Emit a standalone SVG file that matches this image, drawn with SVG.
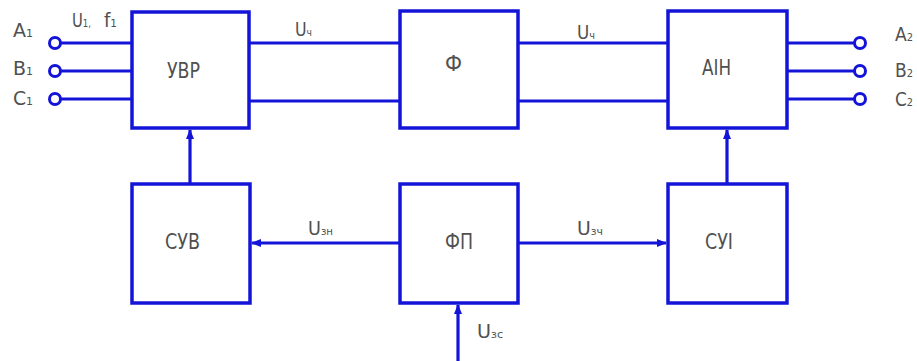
<svg xmlns="http://www.w3.org/2000/svg" width="917" height="361" viewBox="0 0 917 361">
<defs>
<marker id="arr" viewBox="0 0 10 8" refX="9" refY="4" markerWidth="10" markerHeight="8" markerUnits="userSpaceOnUse" orient="auto">
<path d="M0,0 L10,4 L0,8 z" fill="#1414d8"/>
</marker>
</defs>
<style>
.box{fill:#fff;stroke:#1414d8;stroke-width:3.5}
.ln{fill:none;stroke:#1414d8;stroke-width:3.2}
.term{fill:#fff;stroke:#1414d8;stroke-width:3}
.t{font-family:"DejaVu Sans Condensed","Liberation Sans",sans-serif;font-stretch:condensed;fill:#505050;font-size:19px}
.bt{font-family:"DejaVu Sans Condensed","Liberation Sans",sans-serif;font-stretch:condensed;fill:#505050;font-size:21px}
.s{font-size:11px}
</style>
<g id="connectors">
<line class="ln" x1="60" y1="43" x2="132" y2="43"/>
<line class="ln" x1="60" y1="71" x2="132" y2="71"/>
<line class="ln" x1="60" y1="99" x2="132" y2="99"/>
<line class="ln" x1="249" y1="43" x2="400" y2="43"/>
<line class="ln" x1="249" y1="101" x2="400" y2="101"/>
<line class="ln" x1="518" y1="43" x2="668" y2="43"/>
<line class="ln" x1="518" y1="101" x2="668" y2="101"/>
<line class="ln" x1="787" y1="43" x2="854" y2="43"/>
<line class="ln" x1="787" y1="71" x2="854" y2="71"/>
<line class="ln" x1="787" y1="99" x2="854" y2="99"/>
<line class="ln" x1="190" y1="184" x2="190" y2="130" marker-end="url(#arr)"/>
<line class="ln" x1="727" y1="184" x2="727" y2="130" marker-end="url(#arr)"/>
<line class="ln" x1="400" y1="243" x2="252" y2="243" marker-end="url(#arr)"/>
<line class="ln" x1="518" y1="243" x2="666" y2="243" marker-end="url(#arr)"/>
<line class="ln" x1="458" y1="361" x2="458" y2="305" marker-end="url(#arr)"/>
<circle class="term" cx="55" cy="43" r="5.5"/>
<circle class="term" cx="55" cy="71" r="5.5"/>
<circle class="term" cx="55" cy="99" r="5.5"/>
<circle class="term" cx="860" cy="43" r="5.5"/>
<circle class="term" cx="860" cy="71" r="5.5"/>
<circle class="term" cx="860" cy="99" r="5.5"/>
</g>
<g id="labels">
<text class="t" x="13" y="37" textLength="20" lengthAdjust="spacingAndGlyphs">A<tspan class="s">1</tspan></text>
<text class="t" x="13" y="75" textLength="20" lengthAdjust="spacingAndGlyphs">B<tspan class="s">1</tspan></text>
<text class="t" x="13" y="105" textLength="20" lengthAdjust="spacingAndGlyphs">C<tspan class="s">1</tspan></text>
<text class="t" x="72" y="27" textLength="19" lengthAdjust="spacingAndGlyphs">U<tspan class="s">1,</tspan></text>
<text class="t" x="104" y="27" textLength="13" lengthAdjust="spacingAndGlyphs">f<tspan class="s">1</tspan></text>
<text class="t" x="295" y="36" textLength="17" lengthAdjust="spacingAndGlyphs">U<tspan class="s">ч</tspan></text>
<text class="t" x="577" y="39" textLength="18" lengthAdjust="spacingAndGlyphs">U<tspan class="s">ч</tspan></text>
<text class="t" x="895" y="41" textLength="18" lengthAdjust="spacingAndGlyphs">A<tspan class="s">2</tspan></text>
<text class="t" x="895" y="77" textLength="18" lengthAdjust="spacingAndGlyphs">B<tspan class="s">2</tspan></text>
<text class="t" x="895" y="106" textLength="18" lengthAdjust="spacingAndGlyphs">C<tspan class="s">2</tspan></text>
<text class="t" x="308" y="235" textLength="25" lengthAdjust="spacingAndGlyphs">U<tspan class="s">зн</tspan></text>
<text class="t" x="577" y="235" textLength="26" lengthAdjust="spacingAndGlyphs">U<tspan class="s">зч</tspan></text>
<text class="t" x="477" y="338" textLength="26" lengthAdjust="spacingAndGlyphs">U<tspan class="s">зс</tspan></text>
</g>
<g id="uvr"><rect class="box" x="132" y="12" width="117" height="116"/><text class="bt" x="167" y="78" textLength="33" lengthAdjust="spacingAndGlyphs">УВР</text></g>
<g id="f"><rect class="box" x="400" y="11" width="118" height="117"/><text class="bt" x="445" y="71" textLength="17" lengthAdjust="spacingAndGlyphs">Ф</text></g>
<g id="ain"><rect class="box" x="668" y="11" width="119" height="117"/><text class="bt" x="702" y="75" textLength="29" lengthAdjust="spacingAndGlyphs">АІН</text></g>
<g id="suv"><rect class="box" x="132" y="184" width="118" height="119"/><text class="bt" x="165" y="249" textLength="35" lengthAdjust="spacingAndGlyphs">СУВ</text></g>
<g id="fp"><rect class="box" x="400" y="184" width="118" height="119"/><text class="bt" x="445" y="249" textLength="28" lengthAdjust="spacingAndGlyphs">ФП</text></g>
<g id="sui"><rect class="box" x="668" y="184" width="119" height="119"/><text class="bt" x="705" y="249" textLength="28" lengthAdjust="spacingAndGlyphs">СУІ</text></g>
</svg>
